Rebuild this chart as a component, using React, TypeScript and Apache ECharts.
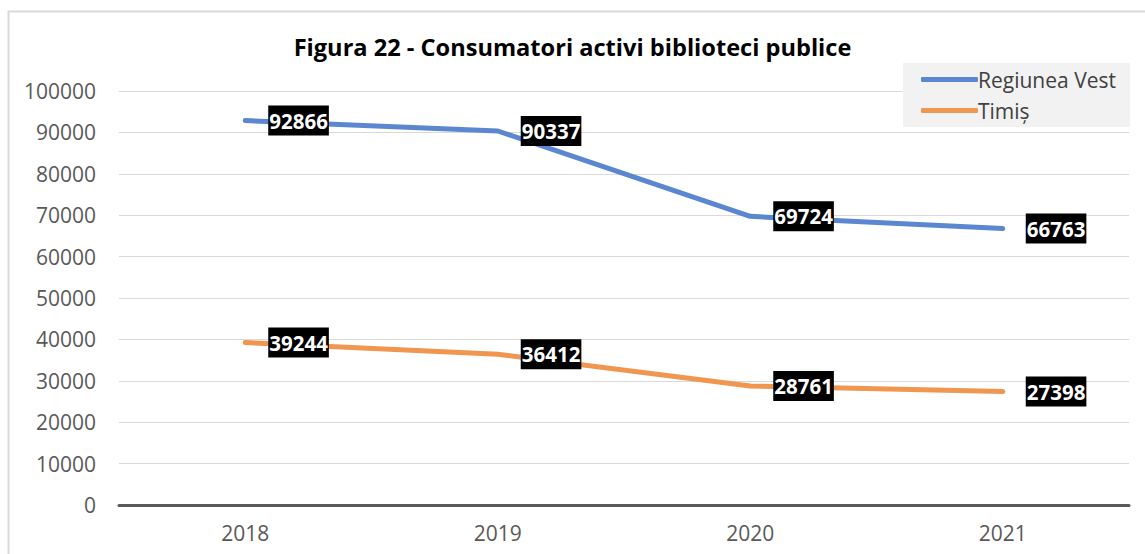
import React, { useEffect, useRef } from "react";
import * as echarts from "echarts";

const years = ["2018", "2019", "2020", "2021"];
const regiuneaVest = [92866, 90337, 69724, 66763];
const timis = [39244, 36412, 28761, 27398];
const seriesNames = ["Regiunea Vest", "Timiș"];
const titleText = "Figura 22 - Consumatori activi biblioteci publice";

export default function App() {
  const ref = useRef<HTMLDivElement>(null);
  useEffect(() => {
    const chart = echarts.init(ref.current!, null, { renderer: "svg" });
    const font = "'Open Sans', sans-serif";
    const label = {
      show: true,
      position: "right",
      distance: 22,
      color: "#ffffff",
      backgroundColor: "#000000",
      fontFamily: font,
      fontWeight: "bold",
      fontSize: 20.5,
      lineHeight: 20,
      padding: [5, 1, 5, 1],
    };
    chart.setOption({
      animation: false,
      backgroundColor: "#ffffff",
      title: {
        text: titleText,
        left: "center",
        top: 30,
        textStyle: { fontFamily: font, fontWeight: "bold", fontSize: 23.6, color: "#000000" },
      },
      legend: {
        orient: "vertical",
        left: 903,
        top: 63,
        backgroundColor: "#F2F2F2",
        padding: [6, 14, 6, 18],
        itemGap: 10,
        itemWidth: 57,
        itemHeight: 5,
        icon: "roundRect",
        textStyle: { fontFamily: font, fontSize: 21, color: "#404040", padding: [0, 0, 0, -5] },
        data: seriesNames,
      },
      grid: { left: 119, right: 16, top: 91, bottom: 49, containLabel: false },
      xAxis: {
        type: "category",
        data: years,
        boundaryGap: true,
        axisLine: { lineStyle: { color: "#595959", width: 3 } },
        axisTick: { show: false },
        axisLabel: { fontFamily: font, fontSize: 21, color: "#595959", margin: 17 },
      },
      yAxis: {
        type: "value",
        min: 0,
        max: 100000,
        interval: 10000,
        axisLine: { show: false },
        axisTick: { show: false },
        splitLine: { lineStyle: { color: "#D9D9D9", width: 1 } },
        axisLabel: {
          fontFamily: font,
          fontSize: 21,
          color: "#595959",
          margin: 23,
          formatter: (v: number) => String(v),
        },
      },
      graphic: [
        {
          type: "rect",
          left: 6,
          top: 9,
          shape: { width: 1150, height: 560 },
          style: { fill: "none", stroke: "#D9D9D9", lineWidth: 2 },
          silent: true,
        },
      ],
      series: [
        {
          name: seriesNames[0],
          type: "line",
          data: regiuneaVest,
          symbol: "circle",
          symbolSize: 2,
          showSymbol: true,
          lineStyle: { color: "#5B87D0", width: 5, cap: "round" },
          itemStyle: { color: "#5B87D0" },
          label,
          z: 3,
        },
        {
          name: seriesNames[1],
          type: "line",
          data: timis,
          symbol: "circle",
          symbolSize: 2,
          showSymbol: true,
          lineStyle: { color: "#F0964F", width: 5, cap: "round" },
          itemStyle: { color: "#F0964F" },
          label,
          z: 3,
        },
      ],
    });
    return () => chart.dispose();
  }, []);
  return (
    <div
      ref={ref}
      style={{ position: "fixed", left: 0, top: 0, width: 1145, height: 554 }}
    />
  );
}
